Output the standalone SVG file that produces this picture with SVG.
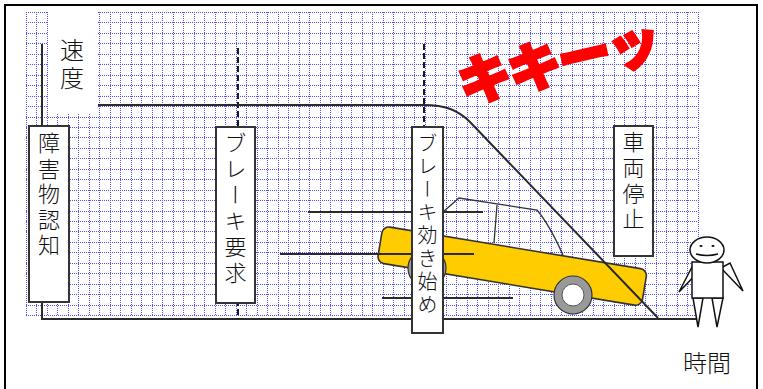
<svg xmlns="http://www.w3.org/2000/svg" width="763" height="389" viewBox="0 0 763 389">
  <style>
    .grid { fill: none; stroke: #5050ff; stroke-width: 1; stroke-dasharray: 1 1; }
    .line { fill: none; stroke: #2a2a2a; stroke-width: 2; }
    .thin { fill: none; stroke: #333; stroke-width: 1.3; }
    .motion { fill: none; stroke: #2a2a2a; stroke-width: 2; }
    .dash { fill: none; stroke: #1a1a1a; stroke-width: 2; stroke-dasharray: 6 3; }
    .box { fill: #fff; stroke: #333; stroke-width: 2; }
    .jp { font-family: "Noto Sans CJK JP", "Noto Sans CJK SC", sans-serif; fill: #111; font-weight: 300; }
    .vt { writing-mode: vertical-rl; }
    .skid { font-family: "Noto Sans CJK JP", "Noto Sans CJK SC", sans-serif; font-weight: 900; fill: #ff0000; stroke: #ff0000; stroke-width: 2.5; }
    .body { fill: #ffcc00; stroke: #333; stroke-width: 1.6; }
    .wheel { fill: #999; stroke: #333; stroke-width: 1.2; }
    .hub { fill: #fff; stroke: #555; stroke-width: 1; }
    .person { fill: #fff; stroke: #111; stroke-width: 1.5; }
  </style>

  <!-- page frame -->
  <rect x="5" y="5" width="752" height="400" fill="#fff" stroke="#000" stroke-width="2"/>

  <!-- graph paper -->
  <g id="grid">
    <path class="grid" d="M26.5 12v303m10-303v303m11-303v303m10-303v303m11-303v303m10-303v303m11-303v303m10-303v303m11-303v303m10-303v303m11-303v303m10-303v303m11-303v303m10-303v303m11-303v303m10-303v303m11-303v303m10-303v303m11-303v303m10-303v303m11-303v303m10-303v303m11-303v303m10-303v303m11-303v303m10-303v303m11-303v303m10-303v303m11-303v303m10-303v303m11-303v303m10-303v303m11-303v303m10-303v303m11-303v303m10-303v303m11-303v303m10-303v303m11-303v303m10-303v303m11-303v303m10-303v303m11-303v303m10-303v303m11-303v303m10-303v303m11-303v303m10-303v303m11-303v303m10-303v303m11-303v303m10-303v303m11-303v303m10-303v303m11-303v303m10-303v303m11-303v303m10-303v303m11-303v303m10-303v303m11-303v303m10-303v303m11-303v303m10-303v303m11-303v303"/>
    <path class="grid" d="M26 12.5h672m-672 10h672m-672 11h672m-672 10h672m-672 11h672m-672 10h672m-672 11h672m-672 10h672m-672 11h672m-672 10h672m-672 11h672m-672 10h672m-672 10h672m-672 11h672m-672 10h672m-672 11h672m-672 10h672m-672 11h672m-672 10h672m-672 11h672m-672 10h672m-672 10h672m-672 11h672m-672 10h672m-672 11h672m-672 10h672m-672 11h672m-672 10h672m-672 11h672m-672 10h672"/>
    <rect x="48" y="10" width="50" height="104" fill="#fff"/>
  </g>

  <!-- car sliding with skid -->
  <g id="car">
    <rect class="body" x="0" y="0" width="268" height="37" rx="7" transform="translate(383 226) rotate(9.4)"/>
    <circle class="wheel" cx="427" cy="268" r="19"/>
    <circle class="hub" cx="427" cy="268" r="11"/>
    <circle class="wheel" cx="573" cy="295" r="19"/>
    <circle class="hub" cx="573" cy="295" r="11"/>
    <path class="thin" d="M443 212L459 198L537 210Q549 224 563 255M497 205L494 243"/>
  </g>

  <!-- axes, speed curve and motion lines -->
  <g id="connectors">
    <path class="line" d="M42 44V319H697"/>
    <path class="dash" d="M238 48V319"/>
    <path class="dash" d="M424 44V128"/>
    <path class="line" d="M98 105H424C445 105 458 110 470 122L658 318"/>
    <path class="motion" d="M308 212H483M280 254H474M382 298H513"/>
  </g>

  <!-- stage labels -->
  <g id="n-recognize">
    <rect class="box" x="29" y="126" width="40" height="176"/>
    <text class="jp vt" x="49" y="132" font-size="22" letter-spacing="3.5">障害物認知</text>
  </g>
  <g id="n-brake-request">
    <rect class="box" x="216" y="127" width="39" height="176"/>
    <text class="jp vt" x="235.5" y="132" font-size="22" letter-spacing="4">ブレーキ要求</text>
  </g>
  <g id="n-brake-effect">
    <rect class="box" x="412" y="127" width="31" height="206"/>
    <text class="jp vt" x="427.5" y="133" font-size="20" letter-spacing="3">ブレーキ効き始め</text>
  </g>
  <g id="n-stop">
    <rect class="box" x="614" y="126" width="39" height="130"/>
    <text class="jp vt" x="633.5" y="131" font-size="22" letter-spacing="3.7">車両停止</text>
  </g>

  <!-- axis titles -->
  <text class="jp vt" x="72" y="38" font-size="24" letter-spacing="4">速度</text>
  <text class="jp" x="707" y="372" font-size="24" text-anchor="middle">時間</text>

  <!-- skid sound -->
  <text class="skid" x="463" y="104" font-size="54" letter-spacing="-3" transform="rotate(-13 463 104)">キキーッ</text>

  <!-- pedestrian -->
  <g id="pedestrian">
    <polygon class="person" points="693,265 700,270 679,292"/>
    <polygon class="person" points="721,268 730,263 743,291"/>
    <polygon class="person" points="693,298 703,298 698,327"/>
    <polygon class="person" points="712,298 723,298 717,327"/>
    <rect class="person" x="692" y="262" width="31" height="36"/>
    <ellipse class="person" cx="707" cy="250" rx="17" ry="13"/>
    <ellipse cx="701" cy="246" rx="1.6" ry="1.1" fill="#111"/>
    <ellipse cx="713" cy="246" rx="1.6" ry="1.1" fill="#111"/>
    <path d="M696 254Q707 257 718 254" fill="none" stroke="#111" stroke-width="1.3"/>
  </g>
</svg>
